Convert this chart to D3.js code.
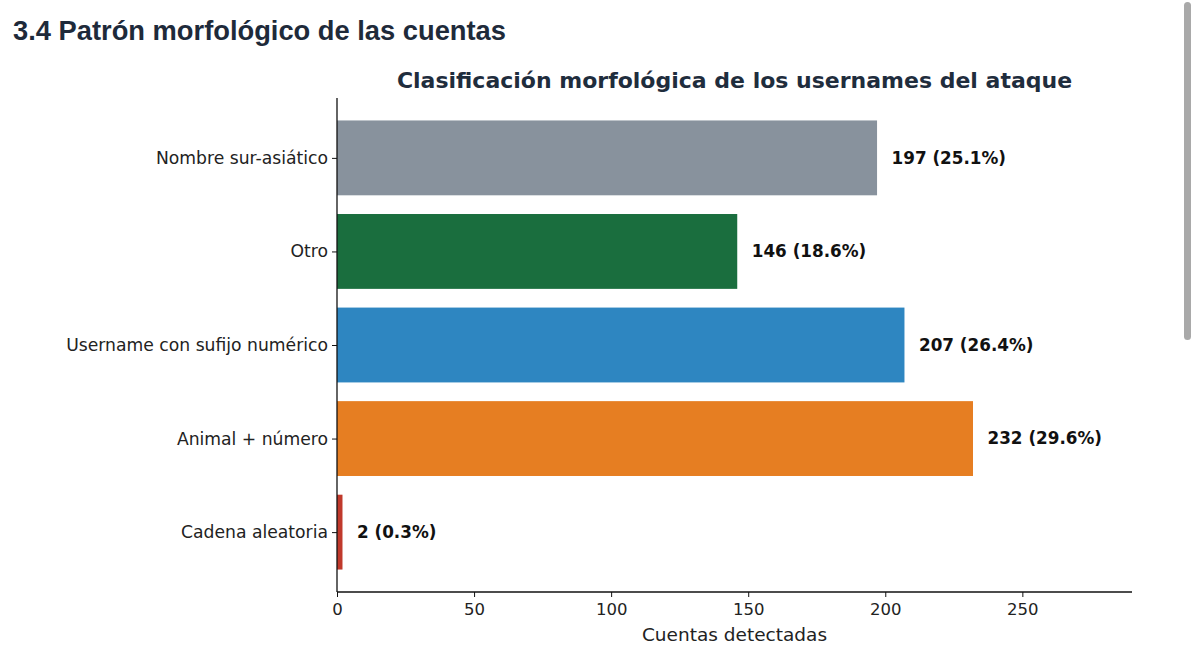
<!DOCTYPE html>
<html>
<head>
<meta charset="utf-8">
<script src="https://cdn.jsdelivr.net/npm/d3@7"></script>
<style>
  html, body { margin: 0; padding: 0; background: #fff; overflow: hidden; }
  #heading { position: absolute; left: 13px; top: 15px; margin: 0; font-family: "Liberation Sans", Arial, sans-serif; font-weight: bold; font-size: 27.3px; color: #1e2a3a; }
  .scrollbar { position: absolute; left: 1184px; top: 2px; width: 7px; height: 338px; border-radius: 4px; background: #a9a9a9; }
  svg { position: absolute; left: 0; top: 0; }
  .tick text { font-family: "DejaVu Sans", sans-serif; }
</style>
</head>
<body>
<h2 id="heading">3.4 Patrón morfológico de las cuentas</h2>
<div class="scrollbar"></div>
<svg id="chart" width="1180" height="655"></svg>
<script>
const categories = ["Nombre sur-asiático", "Otro", "Username con sufijo numérico", "Animal + número", "Cadena aleatoria"];
const counts = [197, 146, 207, 232, 2];
const shares = ["25.1%", "18.6%", "26.4%", "29.6%", "0.3%"];
const colors = ["#88929d", "#1a6e3e", "#2e86c1", "#e67e22", "#c0392b"];
const xTicks = [0, 50, 100, 150, 200, 250];

const svg = d3.select("#chart");
const margin = { left: 337, right: 48, top: 98, bottom: 63 };
const width = 1180 - margin.left - margin.right;
const height = 655 - margin.top - margin.bottom;
const g = svg.append("g").attr("transform", `translate(${margin.left},${margin.top})`);

const x = d3.scaleLinear().domain([0, d3.max(counts) * 1.25]).range([0, width]);
// matplotlib style band: bars at integer positions, height 0.8, 5% margins
const n = categories.length;
const y = d3.scaleLinear().domain([-0.4 - 0.24, n - 1 + 0.4 + 0.24]).range([0, height]);
const barH = y(0.8) - y(0);

const data = categories.map((c, i) => ({ name: c, value: counts[i], share: shares[i], color: colors[i], pos: i }));

g.selectAll("rect.bar")
  .data(data)
  .join("rect")
  .attr("class", "bar")
  .attr("x", 0)
  .attr("y", (d) => y(d.pos) - barH / 2)
  .attr("width", (d) => x(d.value))
  .attr("height", barH)
  .attr("fill", (d) => d.color);

g.selectAll("text.value")
  .data(data)
  .join("text")
  .attr("class", "value")
  .attr("x", (d) => x(d.value + 5.3))
  .attr("y", (d) => y(d.pos))
  .attr("dy", "0.35em")
  .attr("font-family", "DejaVu Sans, sans-serif")
  .attr("font-weight", "bold")
  .attr("font-size", 16.8)
  .attr("fill", "#111")
  .text((d) => `${d.value} (${d.share})`);

const yAxis = d3.axisLeft(y)
  .tickValues(data.map((d) => d.pos))
  .tickFormat((p) => categories[p])
  .tickSize(5)
  .tickPadding(4);
const ya = g.append("g").call(yAxis);
ya.select(".domain").attr("d", `M0,0V${height}`).attr("stroke", "#111").attr("stroke-width", 1.3);
ya.selectAll(".tick line").attr("stroke", "#111");
ya.selectAll(".tick text").attr("font-size", 17.2).attr("fill", "#222");

const xAxis = d3.axisBottom(x).tickValues(xTicks).tickSize(5).tickPadding(6);
const xa = g.append("g").attr("transform", `translate(0,${height})`).call(xAxis);
xa.select(".domain").attr("d", `M0,0H${width}`).attr("stroke", "#111").attr("stroke-width", 1.3);
xa.selectAll(".tick line").attr("stroke", "#111");
xa.selectAll(".tick text").attr("font-size", 16.5).attr("fill", "#222");

g.append("text")
  .attr("x", width / 2)
  .attr("y", height + 49)
  .attr("text-anchor", "middle")
  .attr("font-family", "DejaVu Sans, sans-serif")
  .attr("font-size", 18.5)
  .attr("fill", "#222")
  .text("Cuentas detectadas");

svg.append("text")
  .attr("x", margin.left + width / 2)
  .attr("y", 88)
  .attr("text-anchor", "middle")
  .attr("font-family", "DejaVu Sans, sans-serif")
  .attr("font-weight", "bold")
  .attr("font-size", 22)
  .attr("fill", "#1f2d3d")
  .text("Clasificación morfológica de los usernames del ataque");
</script>
</body>
</html>
